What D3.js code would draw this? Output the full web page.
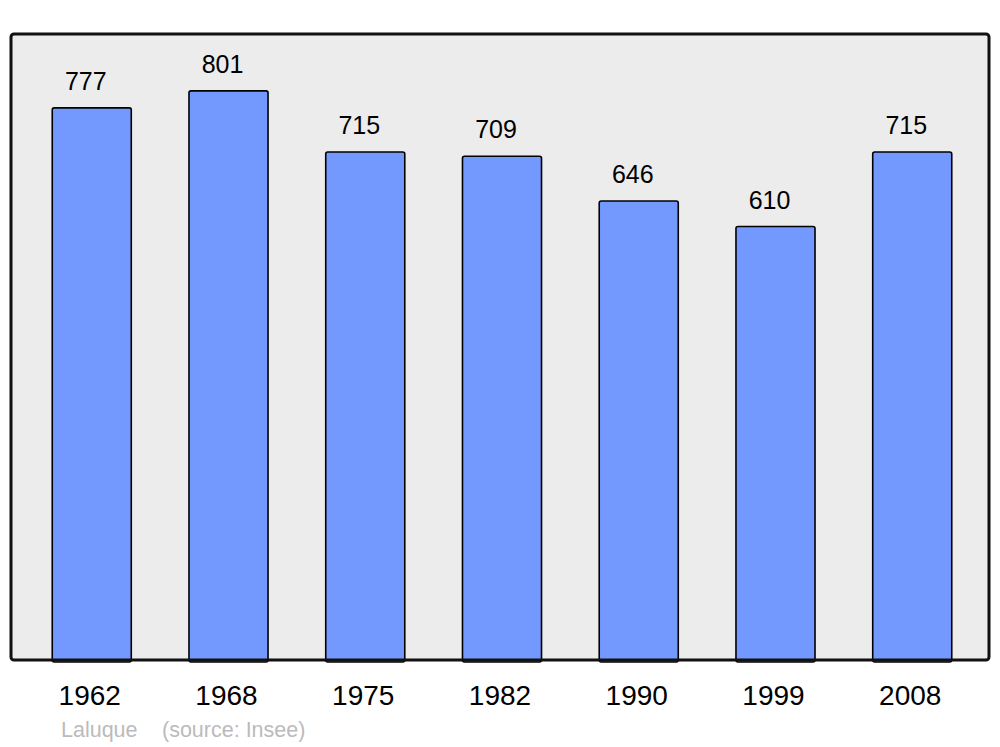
<!DOCTYPE html>
<html>
<head>
<meta charset="utf-8">
<script src="https://cdn.jsdelivr.net/npm/d3@7"></script>
<style>
  body { margin: 0; background: #fff; }
  svg { display: block; font-family: 'Liberation Sans', Arial, sans-serif; }
</style>
</head>
<body>
<div id="chart"></div>
<script>
(function () {

  var years  = ['1962', '1968', '1975', '1982', '1990', '1999', '2008']
  var values = [777, 801, 715, 709, 646, 610, 715]
  var credit = ['Laluque', '(source: Insee)']

  var width = 1000, height = 747
  var panel = {left: 11, top: 34, right: 989, bottom: 660}

  var svg = d3.select('#chart').append('svg')
    .attr('width', width)
    .attr('height', height)

  // background panel
  svg.append('rect')
    .attr('x', panel.left)
    .attr('y', panel.top)
    .attr('width', panel.right - panel.left)
    .attr('height', panel.bottom - panel.top)
    .attr('rx', 3)
    .attr('fill', '#ececec')

  var x = d3.scaleBand()
    .domain(years)
    .range([13, 991])
    .paddingInner(0.422)
    .paddingOuter(0.287)

  var y = d3.scaleLinear()
    .domain([0, 881])
    .range([panel.bottom, panel.top])

  var data = years.map(function (d, i) { return {year: d, value: values[i]} })

  svg.selectAll('rect.bar')
    .data(data)
    .enter().append('rect')
    .attr('class', 'bar')
    .attr('x', d => x(d.year))
    .attr('y', d => y(d.value))
    .attr('width', x.bandwidth())
    .attr('height', d => y(0) - y(d.value) + 2)
    .attr('rx', 2)
    .attr('fill', '#7399ff')
    .attr('stroke', '#000')
    .attr('stroke-width', 1.6)

  svg.selectAll('text.value')
    .data(data)
    .enter().append('text')
    .attr('class', 'value')
    .attr('x', d => x(d.year) + x.bandwidth() / 2 - 6)
    .attr('y', d => y(d.value) - 18)
    .attr('text-anchor', 'middle')
    .attr('font-size', 25)
    .attr('fill', '#000')
    .text(d => d.value)

  // panel border drawn over the bar bottoms
  svg.append('rect')
    .attr('x', panel.left)
    .attr('y', panel.top)
    .attr('width', panel.right - panel.left)
    .attr('height', panel.bottom - panel.top)
    .attr('rx', 3)
    .attr('fill', 'none')
    .attr('stroke', '#111')
    .attr('stroke-width', 3)

  svg.selectAll('text.year')
    .data(years)
    .enter().append('text')
    .attr('class', 'year')
    .attr('x', d => x(d) + x.bandwidth() / 2 - 2)
    .attr('y', 705)
    .attr('text-anchor', 'middle')
    .attr('font-size', 28)
    .attr('fill', '#000')
    .text(d => d)

  svg.selectAll('text.credit')
    .data(credit)
    .enter().append('text')
    .attr('class', 'credit')
    .attr('x', (d, i) => i === 0 ? 61 : 162)
    .attr('y', 737)
    .attr('font-size', 21.5)
    .attr('fill', '#bbbbbb')
    .text(d => d)

})()
</script>
</body>
</html>
